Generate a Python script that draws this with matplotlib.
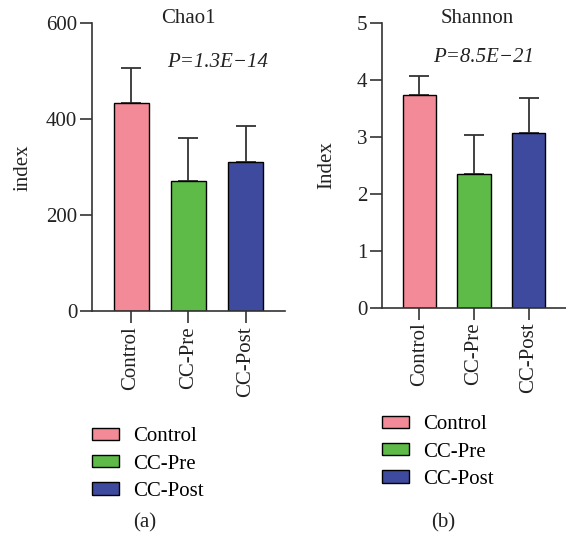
import numpy as np
import matplotlib
matplotlib.use("Agg")
import matplotlib.pyplot as plt
from matplotlib.patches import Patch

plt.rcParams['font.family'] = ['Liberation Serif', 'DejaVu Serif']
plt.rcParams['font.size'] = 15

groups = ['Control', 'CC-Pre', 'CC-Post']
colors = ['#F28A97', '#5EBB47', '#3E4A9D']

chao1_mean = [433, 271, 310]
chao1_err = [73, 91, 77]
shannon_mean = [3.74, 2.35, 3.07]
shannon_err = [0.33, 0.69, 0.61]

fig = plt.figure(figsize=(5.66, 5.44), dpi=100)
ax1 = fig.add_axes([0.1625, 0.428, 0.341, 0.529])
ax2 = fig.add_axes([0.675, 0.434, 0.325, 0.524])

x = np.arange(len(groups))
fs = 15


def bar_panel(ax, means, errs, ymax, yticks, ylabel, lab_x, title, tx, ptxt, ptx, pty):
    ax.bar(x, means, width=0.61, color=colors, edgecolor='black', linewidth=1.0, zorder=2)
    ax.errorbar(x, means, yerr=[np.zeros(len(errs)), errs], fmt='none',
                ecolor='#333333', elinewidth=1.3, capsize=7, capthick=1.3, zorder=1)
    ax.set_xlim(-0.68, 2.68)
    ax.set_ylim(0, ymax)
    ax.set_yticks(yticks)
    ax.set_xticks(x)
    ax.set_xticklabels(groups, rotation=90)
    for s in ['top', 'right']:
        ax.spines[s].set_visible(False)
    for s in ['left', 'bottom']:
        ax.spines[s].set_linewidth(1.2)
        ax.spines[s].set_color('#333333')
    ax.tick_params(axis='both', length=8.6, width=1.2, color='#333333',
                   labelsize=fs, labelcolor='#222222', pad=2)
    ax.set_ylabel(ylabel, fontsize=fs, color='#222222')
    ax.yaxis.set_label_coords(lab_x, 0.5)
    ax.text(tx, 1.016, title, transform=ax.transAxes, fontsize=fs,
            color='#222222', ha='center', va='center')
    ax.text(ptx, pty, ptxt, transform=ax.transAxes, fontsize=fs,
            style='italic', color='#222222', ha='center', va='center')


bar_panel(ax1, chao1_mean, chao1_err, 600, [0, 200, 400, 600], 'index', -0.309,
          'Chao1', 0.5, 'P=1.3E\u221214', 0.65, 0.865)
bar_panel(ax2, shannon_mean, shannon_err, 5, [0, 1, 2, 3, 4, 5], 'Index', -0.248,
          'Shannon', 0.52, 'P=8.5E\u221221', 0.55, 0.878)

handles = [Patch(facecolor=c, edgecolor='black', linewidth=1.0) for c in colors]
leg_kw = dict(frameon=False, fontsize=fs, handlelength=1.3, handleheight=0.53,
              handletextpad=0.67, labelspacing=0.4, borderaxespad=0, borderpad=0)
fig.legend(handles, groups, loc='upper left', bbox_to_anchor=(0.1625, 0.2146), **leg_kw)
fig.legend(handles, groups, loc='upper left', bbox_to_anchor=(0.675, 0.2366), **leg_kw)

fig.text(0.256, 0.038, '(a)', fontsize=fs, ha='center', va='center', color='#222222')
fig.text(0.783, 0.038, '(b)', fontsize=fs, ha='center', va='center', color='#222222')

fig.savefig('out.png', dpi=100)
